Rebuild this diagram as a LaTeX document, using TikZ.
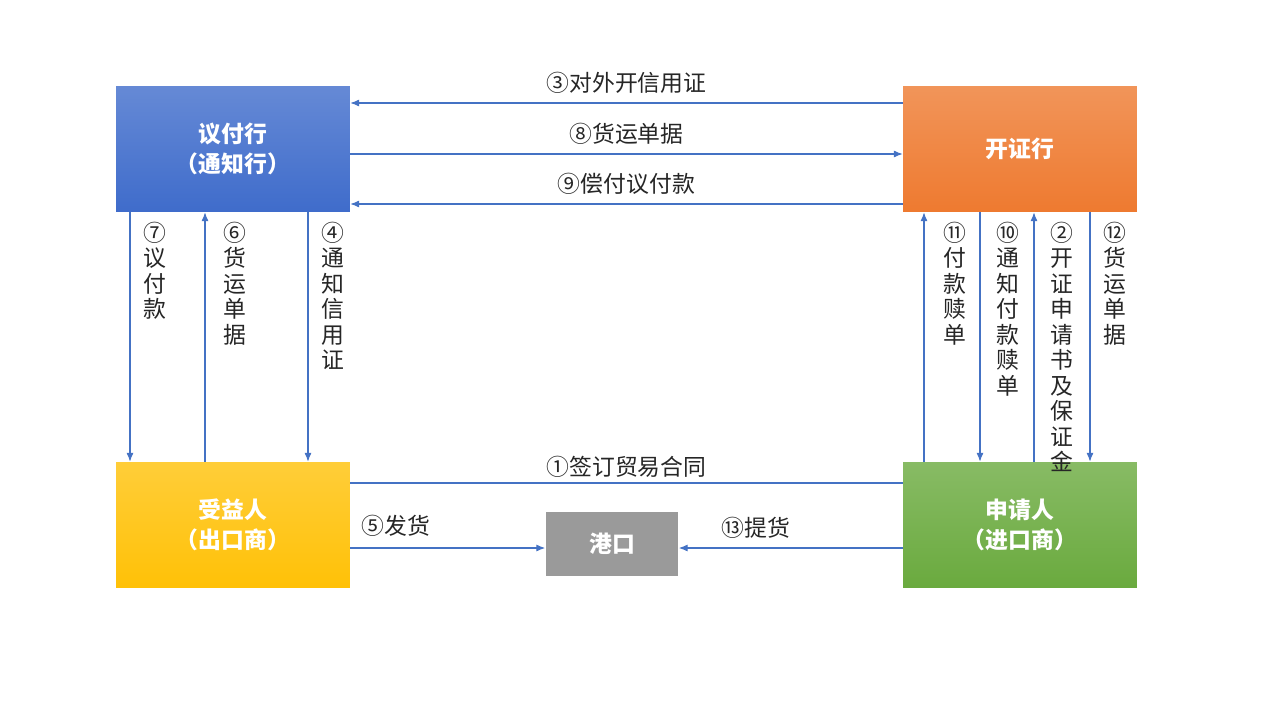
\documentclass[tikz,border=0pt]{standalone}
\usepackage{fontspec}
\setmainfont{Noto Sans CJK SC}
\usetikzlibrary{arrows.meta,positioning}
\definecolor{lineblue}{HTML}{4472C4}
\definecolor{bankblue}{HTML}{3F6CCB}
\definecolor{bankorange}{HTML}{EE7A30}
\definecolor{sellyellow}{HTML}{FFC107}
\definecolor{buygreen}{HTML}{6AAA3E}
\definecolor{portgray}{HTML}{9A9A9A}
\definecolor{labelgray}{HTML}{262626}

\begin{document}
\begin{tikzpicture}[x=0.02cm,y=-0.02cm]
  \tikzstyle{party}=[minimum width=4.68cm,minimum height=2.52cm,inner sep=0pt,text=white,
    font=\fontsize{13}{17}\selectfont\bfseries,align=center]
  \tikzstyle{flow}=[draw=lineblue,line width=0.6pt,-{Latex[length=5pt,width=4pt]}]
  \tikzstyle{lbl}=[text=labelgray,font=\fontsize{13}{15}\selectfont,inner sep=1pt]
  \tikzstyle{vlbl}=[lbl,anchor=north,align=center,font=\fontsize{13}{14.5}\selectfont]

  \useasboundingbox (0,0) rectangle (1269,714);

  \node[party,top color=bankblue!80!white,bottom color=bankblue] (yfh) at (233,149) {议付行\\（通知行）};
  \node[party,top color=bankorange!80!white,bottom color=bankorange] (kzh) at (1020,149) {开证行};
  \node[party,top color=sellyellow!80!white,bottom color=sellyellow] (syr) at (233,525) {受益人\\（出口商）};
  \node[party,top color=buygreen!80!white,bottom color=buygreen] (sqr) at (1020,525) {申请人\\（进口商）};
  \node[party,fill=portgray,minimum width=2.66cm,minimum height=1.28cm] (gk) at (612,544) {港口};

  % horizontal flows between banks
  \draw[flow] (kzh.west |- 0,103) -- (yfh.east |- 0,103) node[lbl,midway,above=4pt] {③对外开信用证};
  \draw[flow] (yfh.east |- 0,154) -- (kzh.west |- 0,154) node[lbl,midway,above=4pt] {⑧货运单据};
  \draw[flow] (kzh.west |- 0,204) -- (yfh.east |- 0,204) node[lbl,midway,above=4pt] {⑨偿付议付款};

  % contract and goods
  \draw[draw=lineblue,line width=0.6pt] (syr.east |- 0,483) -- (sqr.west |- 0,483) node[lbl,midway,above=2pt] {①签订贸易合同};
  \draw[flow] (syr.east |- 0,548) -- (gk.west |- 0,548);
  \node[lbl] (l5) at (396,526) {⑤发货};
  \draw[flow] (sqr.west |- 0,548) -- (gk.east |- 0,548);
  \node[lbl] (l13) at (756,528) {⑬提货};

  % vertical flows
  \draw[flow] (yfh.south -| 130,0) -- (syr.north -| 130,0);
  \draw[flow] (syr.north -| 205,0) -- (yfh.south -| 205,0);
  \draw[flow] (yfh.south -| 308,0) -- (syr.north -| 308,0);
  \draw[flow] (sqr.north -| 924,0) -- (kzh.south -| 924,0);
  \draw[flow] (kzh.south -| 980,0) -- (sqr.north -| 980,0);
  \draw[flow] (sqr.north -| 1034,0) -- (kzh.south -| 1034,0);
  \draw[flow] (kzh.south -| 1090,0) -- (sqr.north -| 1090,0);

  \foreach \name/\x/\txt in {l7/155/⑦\\议\\付\\款, l6/235/⑥\\货\\运\\单\\据, l4/333/④\\通\\知\\信\\用\\证,
      l11/955/⑪\\付\\款\\赎\\单, l10/1008/⑩\\通\\知\\付\\款\\赎\\单,
      l2/1062/②\\开\\证\\申\\请\\书\\及\\保\\证\\金, l12/1115/⑫\\货\\运\\单\\据}
    \node[vlbl] (\name) at (\x,220) {\txt};
\end{tikzpicture}
\end{document}
